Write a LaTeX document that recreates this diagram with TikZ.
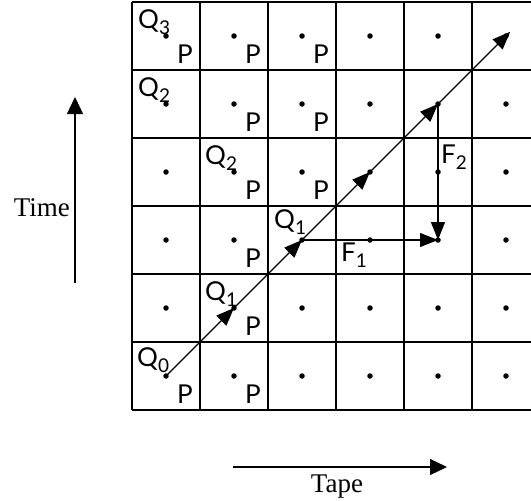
\documentclass[tikz,border=0pt]{standalone}
\usepackage{fontspec}
\setmainfont{Liberation Serif}
\newfontfamily\labfont{Lato}
\usetikzlibrary{arrows.meta,decorations.markings}
\newcommand\sbs[1]{\raisebox{-0.24em}{\fontsize{19}{19}\selectfont #1}}
\tikzset{
  gridline/.style={line width=1.6pt},
  dot/.style={circle,fill,inner sep=0pt,minimum size=5.5pt},
  lab/.style={font=\labfont\fontsize{26}{26}\selectfont, inner sep=0pt},
  axislabel/.style={font=\fontsize{27}{27}\selectfont, inner sep=0pt},
  axisarrow/.style={line width=1.2pt,-{Triangle[length=17pt,width=16pt]}},
  flow/.style={line width=1.3pt,-{Triangle[length=18pt,width=14pt]}},
  midarrows/.style={postaction={decorate},decoration={markings,
    mark=at position 0.2 with {\arrow{Triangle[length=18pt,width=14pt]}},
    mark=at position 0.4 with {\arrow{Triangle[length=18pt,width=14pt]}},
    mark=at position 0.6 with {\arrow{Triangle[length=18pt,width=14pt]}},
    mark=at position 0.8 with {\arrow{Triangle[length=18pt,width=14pt]}}}}
}
\begin{document}
\begin{tikzpicture}[x=1pt,y=-1pt]
\useasboundingbox (0,0) rectangle (531,501);
\clip (0,0) rectangle (531,501);
% grid
\foreach \i in {0,...,6} {
  \draw[gridline] ({132+68*\i},2) -- ({132+68*\i},410);
  \draw[gridline] (132,{2+68*\i}) -- (540,{2+68*\i});
}
% dots at cell centres
\foreach \c in {0,...,5} {
  \foreach \r in {0,...,5} {
    \node[dot] (d\c\r) at ({166+68*\c},{376-68*\r}) {};
  }
}
% labels
\node[lab,anchor=base west] (q3) at (138,28) {Q\sbs{3}};
\node[lab,anchor=base east] (p05) at (193,63) {P};
\node[lab,anchor=base east] (p15) at (261,63) {P};
\node[lab,anchor=base east] (p25) at (329,63) {P};
\node[lab,anchor=base west] (q2a) at (138,96) {Q\sbs{2}};
\node[lab,anchor=base east] (p14) at (261,131) {P};
\node[lab,anchor=base east] (p24) at (329,131) {P};
\node[lab,anchor=base west] (q2b) at (205,164) {Q\sbs{2}};
\node[lab,anchor=base east] (p13) at (261,199) {P};
\node[lab,anchor=base east] (p23) at (329,199) {P};
\node[lab,anchor=base east] (p12) at (261,267) {P};
\node[lab,anchor=base west] (q1a) at (274,228) {Q\sbs{1}};
\node[lab,anchor=base west] (q1b) at (205,300) {Q\sbs{1}};
\node[lab,anchor=base east] (p11) at (261,335) {P};
\node[lab,anchor=base west] (q0) at (137,366) {Q\sbs{0}};
\node[lab,anchor=base east] (p00) at (193,403) {P};
\node[lab,anchor=base east] (p10) at (261,403) {P};
% main diagonal
\draw[line width=1.3pt,midarrows,-{Triangle[length=18pt,width=14pt]},shorten >=-6pt] (d00.center) -- (d55.center);
% F arrows
\draw[flow] (d22.center) -- (d42.center);
\draw[flow] (d44.center) -- (d42.center);
\node[lab,anchor=base west] (f1) at (341,261) {F\sbs{1}};
\node[lab,anchor=base west] (f2) at (441,163) {F\sbs{2}};
% axes
\coordinate (tb) at (75,283);
\coordinate (tt) at (75,97);
\draw[axisarrow] (tb) -- (tt);
\node[axislabel,anchor=base east] (time) at (70,216) {Time};
\coordinate (pa) at (233,467);
\coordinate (pb) at (447,467);
\draw[axisarrow] (pa) -- (pb);
\node[axislabel,anchor=base] (tape) at (337,492) {Tape};
\end{tikzpicture}
\end{document}
